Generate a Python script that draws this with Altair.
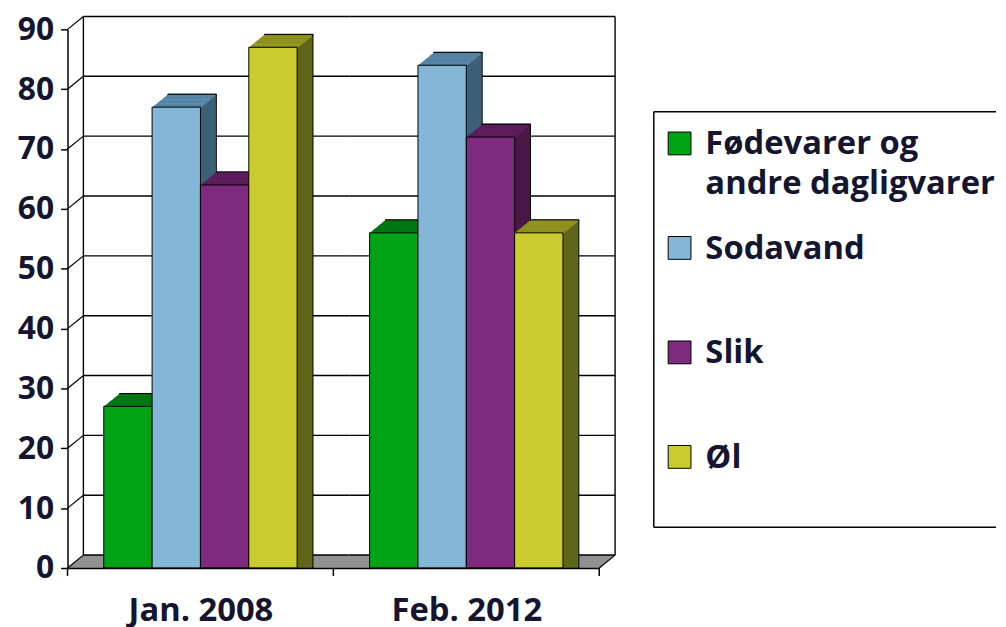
import altair as alt
import pandas as pd

# ---- data ----
periods = ["Jan. 2008", "Feb. 2012"]
series = ["Fødevarer og andre dagligvarer", "Sodavand", "Slik", "Øl"]
legend_labels = ["Fødevarer og\nandre dagligvarer", "Sodavand", "Slik", "Øl"]
values_jan = [27, 77, 64, 87]
values_feb = [56, 84, 72, 56]
y_ticks = [0, 10, 20, 30, 40, 50, 60, 70, 80, 90]

front_colors = ["#00A316", "#84B7D7", "#7E2A7E", "#C9CC2C"]
top_colors = ["#007D12", "#5D8FB0", "#631F63", "#9C9F22"]
side_colors = ["#005E0C", "#3E6079", "#4A1747", "#61661A"]

# ---- styling / layout ----
W = 268
H = 543
DX = 16
DY = 13
N = 16
TEXT = "#151530"
FONT = "Open Sans"
FLOOR = "#8a8a8a"

yscale = alt.Scale(domain=[0, 90], nice=False, zero=True)


def y_axis(show):
    if not show:
        return None
    return alt.Axis(values=y_ticks, tickSize=7, tickColor="black", tickWidth=1.5,
                    domainColor="black", domainWidth=1.5, labelFont=FONT,
                    labelFontSize=32, labelFontWeight="bold", labelColor=TEXT,
                    labelPadding=7, grid=False, title=None, zindex=1)


def Y(field, show):
    return alt.Y(field, type="quantitative", scale=yscale, axis=y_axis(show), stack=None)


def X(period):
    return alt.X("series:N", sort=series,
                 scale=alt.Scale(domain=series, paddingInner=0, paddingOuter=0.75),
                 axis=alt.Axis(title=period, labels=False, ticks=False, domain=True,
                               domainColor="black", domainWidth=1.5, titleFont=FONT,
                               titleFontSize=33, titleFontWeight="bold", titleColor=TEXT,
                               titlePadding=27, grid=False, zindex=1))


def panel_layers(period, vals, first):
    df = pd.DataFrame({"series": series, "value": vals, "front": front_colors,
                       "top": top_colors, "side": side_colors})
    ticks_df = pd.DataFrame({"v": y_ticks})
    zero_df = pd.DataFrame({"v": [0]})
    top_df = pd.DataFrame({"v": [0], "v2": [90]})
    layers = []
    # back wall grid lines
    layers.append(alt.Chart(ticks_df).mark_rule(color="black", strokeWidth=1.4, yOffset=-DY)
                  .encode(x=alt.value(DX), x2=alt.value(W + DX), y=Y("v", first)))
    # floor (swept parallelogram)
    for j in range(0, DY + 1):
        sx = j * DX / DY
        layers.append(alt.Chart(zero_df).mark_rule(color=FLOOR, strokeWidth=1.5, yOffset=-j)
                      .encode(x=alt.value(sx), x2=alt.value(W + sx), y=Y("v", first)))
    layers.append(alt.Chart(zero_df).mark_rule(color="black", strokeWidth=1.4, yOffset=-DY)
                  .encode(x=alt.value(DX), x2=alt.value(W + DX), y=Y("v", first)))
    if first:
        # wall left edge
        layers.append(alt.Chart(top_df).mark_rule(color="black", strokeWidth=1.4,
                                                  yOffset=-DY, y2Offset=-DY)
                      .encode(x=alt.value(DX), y=Y("v", first), y2=alt.Y2("v2")))
        # diagonals from axis ticks to the wall
        layers.append(alt.Chart(ticks_df).mark_rule(color="black", strokeWidth=1.2, y2Offset=-DY)
                      .encode(x=alt.value(0), x2=alt.value(DX), y=Y("v", first), y2=alt.Y2("v")))
        layers.append(alt.Chart(zero_df).mark_rule(color="black", strokeWidth=1.5, y2Offset=8)
                      .encode(x=alt.value(0), y=Y("v", first), y2=alt.Y2("v")))
    else:
        layers.append(alt.Chart(top_df).mark_rule(color="black", strokeWidth=1.4,
                                                  yOffset=-DY, y2Offset=-DY)
                      .encode(x=alt.value(W + DX), y=Y("v", first), y2=alt.Y2("v2")))
        layers.append(alt.Chart(zero_df).mark_rule(color="black", strokeWidth=1.2, y2Offset=-DY)
                      .encode(x=alt.value(W), x2=alt.value(W + DX), y=Y("v", first), y2=alt.Y2("v")))
    # category boundary tick
    layers.append(alt.Chart(zero_df).mark_rule(color="black", strokeWidth=1.5, y2Offset=8)
                  .encode(x=alt.value(W), y=Y("v", first), y2=alt.Y2("v")))
    # 3D bars: swept copies (side + top), back to front
    xenc = X(period)
    for k in range(N, 0, -1):
        ox = k * DX / N
        oy = -k * DY / N
        kw = dict(stroke="black", strokeWidth=1) if k == N else {}
        layers.append(alt.Chart(df).mark_bar(xOffset=ox, x2Offset=ox, yOffset=oy, y2Offset=oy, **kw)
                      .encode(x=xenc, y=Y("value", first), fill=alt.Fill("side:N", scale=None)))
        layers.append(alt.Chart(df).mark_bar(xOffset=ox, x2Offset=ox, yOffset=oy,
                                             y2Offset=-(k - 1) * DY / N + 0.4, **kw)
                      .encode(x=xenc, y=Y("value", first), y2=alt.Y2("value"),
                              fill=alt.Fill("top:N", scale=None)))
    layers.append(alt.Chart(df).mark_bar(stroke="black", strokeWidth=1)
                  .encode(x=xenc, y=Y("value", first), fill=alt.Fill("front:N", scale=None)))
    return layers


p1 = alt.layer(*panel_layers(periods[0], values_jan, True)).properties(width=W, height=H)

main2 = alt.layer(*panel_layers(periods[1], values_feb, False))

# legend (manual)
legend_df = pd.DataFrame({"row": [0, 1, 2, 3], "label": legend_labels, "color": front_colors})
box_df = pd.DataFrame({"a": [0]})
ly = alt.Y("row:Q", scale=alt.Scale(domain=[0, 3], range=[115, 431]), axis=None)
box_left = alt.Chart(box_df).mark_rule(color="black", strokeWidth=1.5).encode(
    x=alt.value(323), y=alt.value(83), y2=alt.value(502))
box_top = alt.Chart(box_df).mark_rule(color="black", strokeWidth=1.5).encode(
    x=alt.value(323), x2=alt.value(668), y=alt.value(83))
box_bottom = alt.Chart(box_df).mark_rule(color="black", strokeWidth=1.5).encode(
    x=alt.value(323), x2=alt.value(668), y=alt.value(502))
squares = alt.Chart(legend_df).mark_square(size=529, stroke="black", strokeWidth=1, opacity=1).encode(
    x=alt.value(349), y=ly, fill=alt.Fill("color:N", scale=None))
texts = alt.Chart(legend_df).mark_text(align="left", baseline="alphabetic", dy=11, lineBreak="\n",
                                       lineHeight=40, font=FONT, fontSize=33, fontWeight="bold",
                                       color=TEXT).encode(
    x=alt.value(375), y=ly, text="label:N")
legend = alt.layer(box_left, box_top, box_bottom, squares, texts)

p2 = alt.layer(main2, legend).resolve_scale(y="independent").properties(width=W, height=H)

chart = alt.hconcat(p1, p2, spacing=0, bounds="flush").properties(
    padding={"left": 8, "top": 2, "right": 0, "bottom": 0}
).configure_view(stroke="transparent")

chart.save("out.html", embed_options={"renderer": "svg", "actions": False})
